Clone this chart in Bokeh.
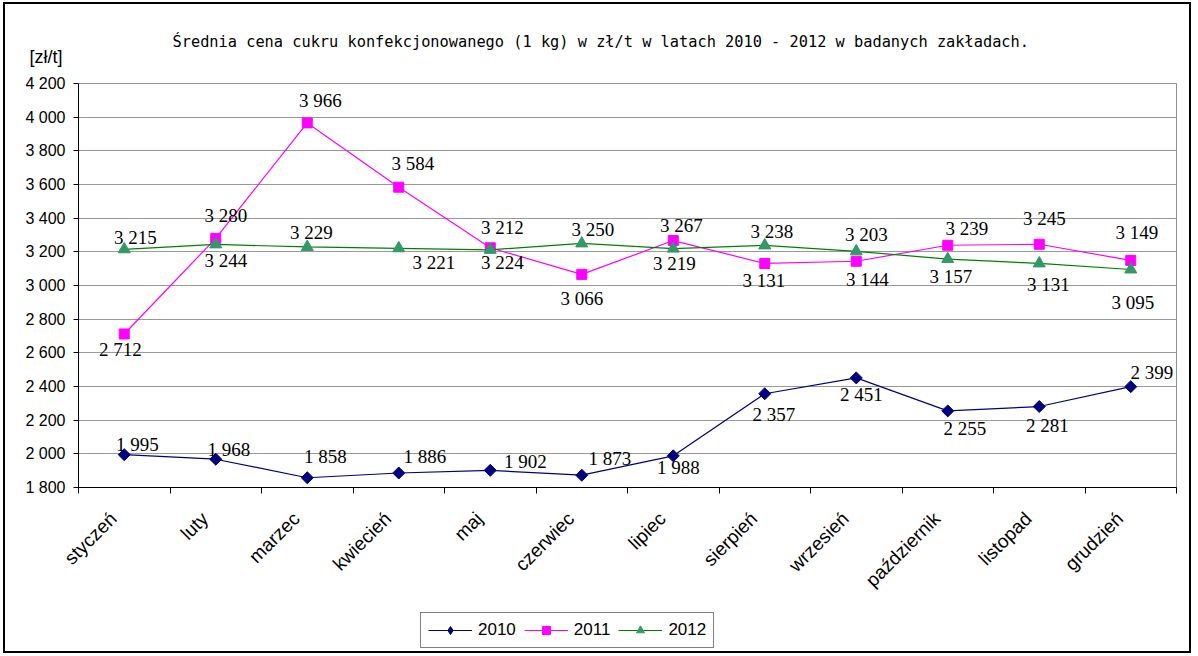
import math
from bokeh.plotting import figure
from bokeh.models import (ColumnDataSource, FixedTicker, Range1d, Legend, LegendItem, Label,
                          LinearAxis)
from bokeh.layouts import column
from bokeh.embed import file_html
from bokeh.resources import INLINE
from bokeh.core.properties import value

# ---- data ----
months = ["styczeń", "luty", "marzec", "kwiecień", "maj", "czerwiec", "lipiec",
          "sierpień", "wrzesień", "październik", "listopad", "grudzień"]
v2010 = [1995, 1968, 1858, 1886, 1902, 1873, 1988, 2357, 2451, 2255, 2281, 2399]
v2011 = [2712, 3280, 3966, 3584, 3224, 3066, 3267, 3131, 3144, 3239, 3245, 3149]
v2012 = [3215, 3244, 3229, 3221, 3212, 3250, 3219, 3238, 3203, 3157, 3131, 3095]
y_ticks = [1800, 2000, 2200, 2400, 2600, 2800, 3000, 3200, 3400, 3600, 3800, 4000, 4200]
title_text = "Średnia cena cukru konfekcjonowanego (1 kg) w zł/t w latach 2010 - 2012  w badanych zakładach."
unit_text = "[zł/t]"

# label offsets (screen px)
off2010_dx = [13, 13, 18, 26, 35, 28, 5, 9, 5, 17, 8, 21]
off2010_dy = [-10, -10, -21, -17, -9, -17, 12, 21, 17, 18, 19, -14]
off2011_dx = [-4, 10, 13, 14, 12, 0, 8, -1, 11, 19, 5, 6]
off2011_dy = [16, -23, -22, -24, 15, 24, -15, 17, 18, -17, -26, -28]
off2012_dx = [11, 10, 4, 35, 12, 11, 1, 7, 10, 3, 9, 2]
off2012_dy = [-12, 16, -14, 14, -22, -14, 15, -14, -17, 17, 21, 33]


def fmt(v):
    return f"{v:,}".replace(",", " ")


xs = [i + 0.5 for i in range(len(months))]
label_pos = [x - 0.12 for x in xs]

W = 1184

# ---- header (title + unit) ----
hd = figure(width=W, height=65, output_backend="svg", toolbar_location=None,
            x_range=Range1d(0, W), y_range=Range1d(0, 65),
            x_axis_type=None, y_axis_type=None, min_border=0)
hd.outline_line_color = None
hd.grid.visible = False
hd.title.visible = False
hd.add_layout(Label(x=94, y=28, x_units="screen", y_units="screen", text=title_text,
                    text_font="DejaVu Sans Mono", text_font_size="15.3px",
                    text_baseline="middle", text_align="left", text_color="black"))
unit_axis = LinearAxis(ticker=FixedTicker(ticks=[13]), major_label_overrides={13: unit_text},
                       axis_line_color=None, major_tick_line_color=None,
                       minor_tick_line_color=None, major_label_standoff=10,
                       major_label_text_font="Liberation Sans",
                       major_label_text_font_size="18px", major_label_text_color="black")
hd.add_layout(unit_axis, "left")

# ---- main chart ----
p = figure(width=W, height=535, output_backend="svg", toolbar_location=None,
           x_range=Range1d(0, 12), y_range=Range1d(1800, 4200),
           min_border_left=73, min_border_right=13, min_border_top=14, min_border_bottom=117)
p.title.visible = False
p.background_fill_color = "white"
p.border_fill_color = "white"
p.outline_line_color = "#909090"
p.outline_line_width = 1

p.xgrid.grid_line_color = None
p.ygrid.grid_line_color = "#999999"
p.ygrid.grid_line_width = 1
p.ygrid.ticker = FixedTicker(ticks=y_ticks)

p.yaxis.ticker = FixedTicker(ticks=y_ticks)
p.yaxis.major_label_overrides = {t: fmt(t) for t in y_ticks}
p.yaxis.axis_line_color = "black"
p.yaxis.major_tick_line_color = "black"
p.yaxis.major_tick_out = 5
p.yaxis.major_tick_in = 0
p.yaxis.minor_tick_line_color = None
p.yaxis.major_label_standoff = 8
p.yaxis.major_label_text_font = "Liberation Sans"
p.yaxis.major_label_text_font_size = "16px"
p.yaxis.major_label_text_color = "black"

p.xaxis.ticker = FixedTicker(ticks=label_pos, minor_ticks=list(range(13)))
p.xaxis.major_label_overrides = {x: m for x, m in zip(label_pos, months)}
p.xaxis.major_tick_line_color = None
p.xaxis.minor_tick_line_color = "black"
p.xaxis.minor_tick_out = 6
p.xaxis.minor_tick_in = 0
p.xaxis.axis_line_color = "black"
p.xaxis.major_label_orientation = 0.785398
p.xaxis.major_label_standoff = 22
p.xaxis.major_label_text_font = "Liberation Sans"
p.xaxis.major_label_text_font_size = "19px"
p.xaxis.major_label_text_color = "black"

# ---- legend strip ----
lg = figure(width=W, height=47, output_backend="svg", toolbar_location=None,
            x_range=Range1d(100, 101), y_range=Range1d(0, 1),
            x_axis_type=None, y_axis_type=None, min_border=0)
lg.outline_line_color = None
lg.grid.visible = False
lg.title.visible = False

series = [
    (v2010, "#000080", "square", 8.5, math.pi / 4, "diamond", 13, "#000080",
     off2010_dx, off2010_dy, "2010"),
    (v2011, "#FF00FF", "square", 10, 0.0, "square", 10, "#FF00FF",
     off2011_dx, off2011_dy, "2011"),
    (v2012, "#008000", "triangle", 12, 0.0, "triangle", 12, "#339966",
     off2012_dx, off2012_dy, "2012"),
]
items = []
for vals, lc, mk, sz, ang, lmk, lsz, mc, dx, dy, name in series:
    src = ColumnDataSource(dict(x=xs, y=vals, lab=[fmt(v) for v in vals], dx=dx, dy=dy))
    p.line("x", "y", source=src, line_color=lc, line_width=1.2)
    p.scatter("x", "y", source=src, marker=mk, size=sz, angle=ang,
              fill_color=mc, line_color=mc)
    p.text("x", "y", text="lab", source=src, x_offset="dx", y_offset="dy",
           text_align="center", text_baseline="middle",
           text_font=value("Liberation Serif"), text_font_size="19px", text_color="black")
    l1 = lg.line("x", "y", source=src, line_color=lc, line_width=1.2)
    l2 = lg.scatter("x", "y", source=src, marker=lmk, size=lsz,
                    fill_color=mc, line_color=mc)
    items.append(LegendItem(label=name, renderers=[l1, l2]))

legend = Legend(items=items, orientation="horizontal", location=(342, 3),
                label_text_font="Liberation Sans", label_text_font_size="17px",
                label_text_color="black",
                glyph_width=44, glyph_height=20, label_standoff=6, spacing=8,
                padding=7, margin=0, border_line_color="black", border_line_width=1,
                background_fill_color="white", background_fill_alpha=1.0)
lg.add_layout(legend, "center")

layout = column(hd, p, lg, spacing=0,
                styles={"border": "2px solid black", "margin-left": "3px", "margin-top": "2px"})

open("out.html", "w").write(file_html(layout, INLINE))
